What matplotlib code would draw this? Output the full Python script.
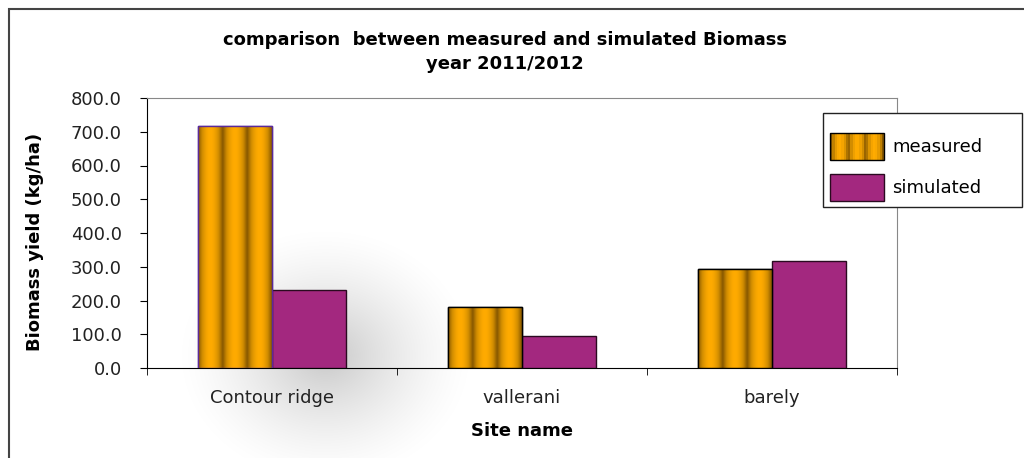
import numpy as np
import matplotlib
matplotlib.use("Agg")
import matplotlib.pyplot as plt
from matplotlib.colors import LinearSegmentedColormap
from matplotlib.patches import Rectangle
from matplotlib.legend_handler import HandlerBase

plt.rcParams['font.family'] = ['DejaVu Sans']

sites = ["Contour ridge", "vallerani", "barely"]
measured = [717, 182, 294]
simulated = [231, 95, 316]
yticks = [0, 100, 200, 300, 400, 500, 600, 700, 800]

stripe_cmap = LinearSegmentedColormap.from_list("stripe", ["#865700", "#d08c00", "#ffab00"])
sim_color = "#a3287f"


def stripe_values(n=200, periods=3):
    t = np.linspace(0, 1, n)
    return (0.5 - 0.5 * np.cos(2 * np.pi * periods * t)) ** 0.5


class StripeHandler(HandlerBase):
    def create_artists(self, legend, orig_handle, xdescent, ydescent,
                       width, height, fontsize, trans):
        arts = []
        vals = stripe_values(24)
        w = width / len(vals)
        for i, v in enumerate(vals):
            r = Rectangle((-xdescent + i * w, -ydescent), w * 1.05, height,
                          facecolor=stripe_cmap(v), edgecolor='none', transform=trans)
            arts.append(r)
        arts.append(Rectangle((-xdescent, -ydescent), width, height, facecolor='none',
                              edgecolor='black', lw=1.0, transform=trans))
        return arts


fig = plt.figure(figsize=(10.24, 4.58), dpi=100)

# soft background shadow near the first group
bg = fig.add_axes([0, 0, 1, 1], zorder=-5)
bg.set_xlim(0, 1024)
bg.set_ylim(458, 0)
bg.axis('off')
gx, gy = np.meshgrid(np.arange(1024), np.arange(458))
r = np.hypot((gx - 325) / 1.1, (gy - 355) / 0.95)
shade = np.clip(1 - r / 140, 0, 1) ** 1.5 * 0.22
rgba = np.zeros((458, 1024, 4))
rgba[..., 3] = shade
bg.imshow(rgba, extent=(0, 1024, 458, 0), aspect='auto')

# outer border
fig.patches.append(Rectangle((9 / 1024, -0.1), 1.2, 1 - 9 / 458 + 0.1, transform=fig.transFigure,
                             fill=False, edgecolor='#444444', lw=1.5))

ax = fig.add_axes([147 / 1024, 1 - 368 / 458, 750 / 1024, 270 / 458])
ax.set_facecolor('none')

x = np.arange(len(sites))
w = 0.295
mbars = ax.bar(x - w / 2, measured, w, color='#ffab00', edgecolor=['#5a2a9a', 'black', 'black'],
               lw=1.0, zorder=3)
sbars = ax.bar(x + w / 2, simulated, w, color=sim_color, edgecolor='#2a0a20', lw=1.0, zorder=3)

vals = stripe_values()
for b in mbars:
    im = ax.imshow(vals[np.newaxis, :], cmap=stripe_cmap, vmin=0, vmax=1, aspect='auto',
                   extent=(b.get_x(), b.get_x() + b.get_width(), 0, b.get_height()),
                   zorder=3.5, interpolation='bilinear')
    im.set_clip_path(b)
    ax.add_patch(Rectangle((b.get_x(), 0), b.get_width(), b.get_height(), fill=False,
                           edgecolor=b.get_edgecolor(), lw=1.0, zorder=4))

ax.set_xlim(-0.5, 2.5)
ax.set_ylim(0, 800)
ax.set_yticks(yticks)
ax.set_yticklabels([f"{v:.1f}" for v in yticks], fontsize=13, color='#222222')
ax.set_xticks(x)
ax.set_xticklabels(sites, fontsize=13, color='#222222')
ax.set_xticks([-0.5, 0.5, 1.5, 2.5], minor=True)
ax.tick_params(axis='x', which='major', length=0, pad=15)
ax.tick_params(axis='x', which='minor', length=5, direction='out', color='black')
ax.tick_params(axis='y', length=5, direction='out', pad=13, color='black')
for s in ['top', 'right']:
    ax.spines[s].set_color('#888888')
for s in ['left', 'bottom']:
    ax.spines[s].set_color('black')

ax.set_ylabel("Biomass yield (kg/ha)", fontsize=13, fontweight='bold')
ax.yaxis.set_label_coords(-0.137, 0.467)
ax.set_xlabel("Site name", fontsize=13, fontweight='bold', labelpad=11)

fig.text(505 / 1024, 1 - 40 / 458, "comparison  between measured and simulated Biomass",
         ha='center', va='center', fontsize=13, fontweight='bold')
fig.text(505 / 1024, 1 - 64 / 458, "year 2011/2012", ha='center', va='center',
         fontsize=13, fontweight='bold')

# legend frame drawn separately so the padding can match
ax.add_patch(Rectangle((823 / 1024, 1 - 207 / 458), 199 / 1024, 94 / 458,
                       transform=fig.transFigure, clip_on=False, facecolor='white',
                       edgecolor='#222222', lw=1.0, zorder=9))
leg = ax.legend([mbars[0], sbars[0]], ["measured", "simulated"],
                handler_map={mbars[0]: StripeHandler()},
                loc='upper left', bbox_to_anchor=(830 / 1024, 1 - 133 / 458),
                bbox_transform=fig.transFigure, fontsize=13, frameon=False,
                handlelength=3.0, handleheight=1.9, labelspacing=0.8,
                handletextpad=0.45, borderpad=0, borderaxespad=0)
leg.set_zorder(10)

fig.savefig("out.png", dpi=100)
